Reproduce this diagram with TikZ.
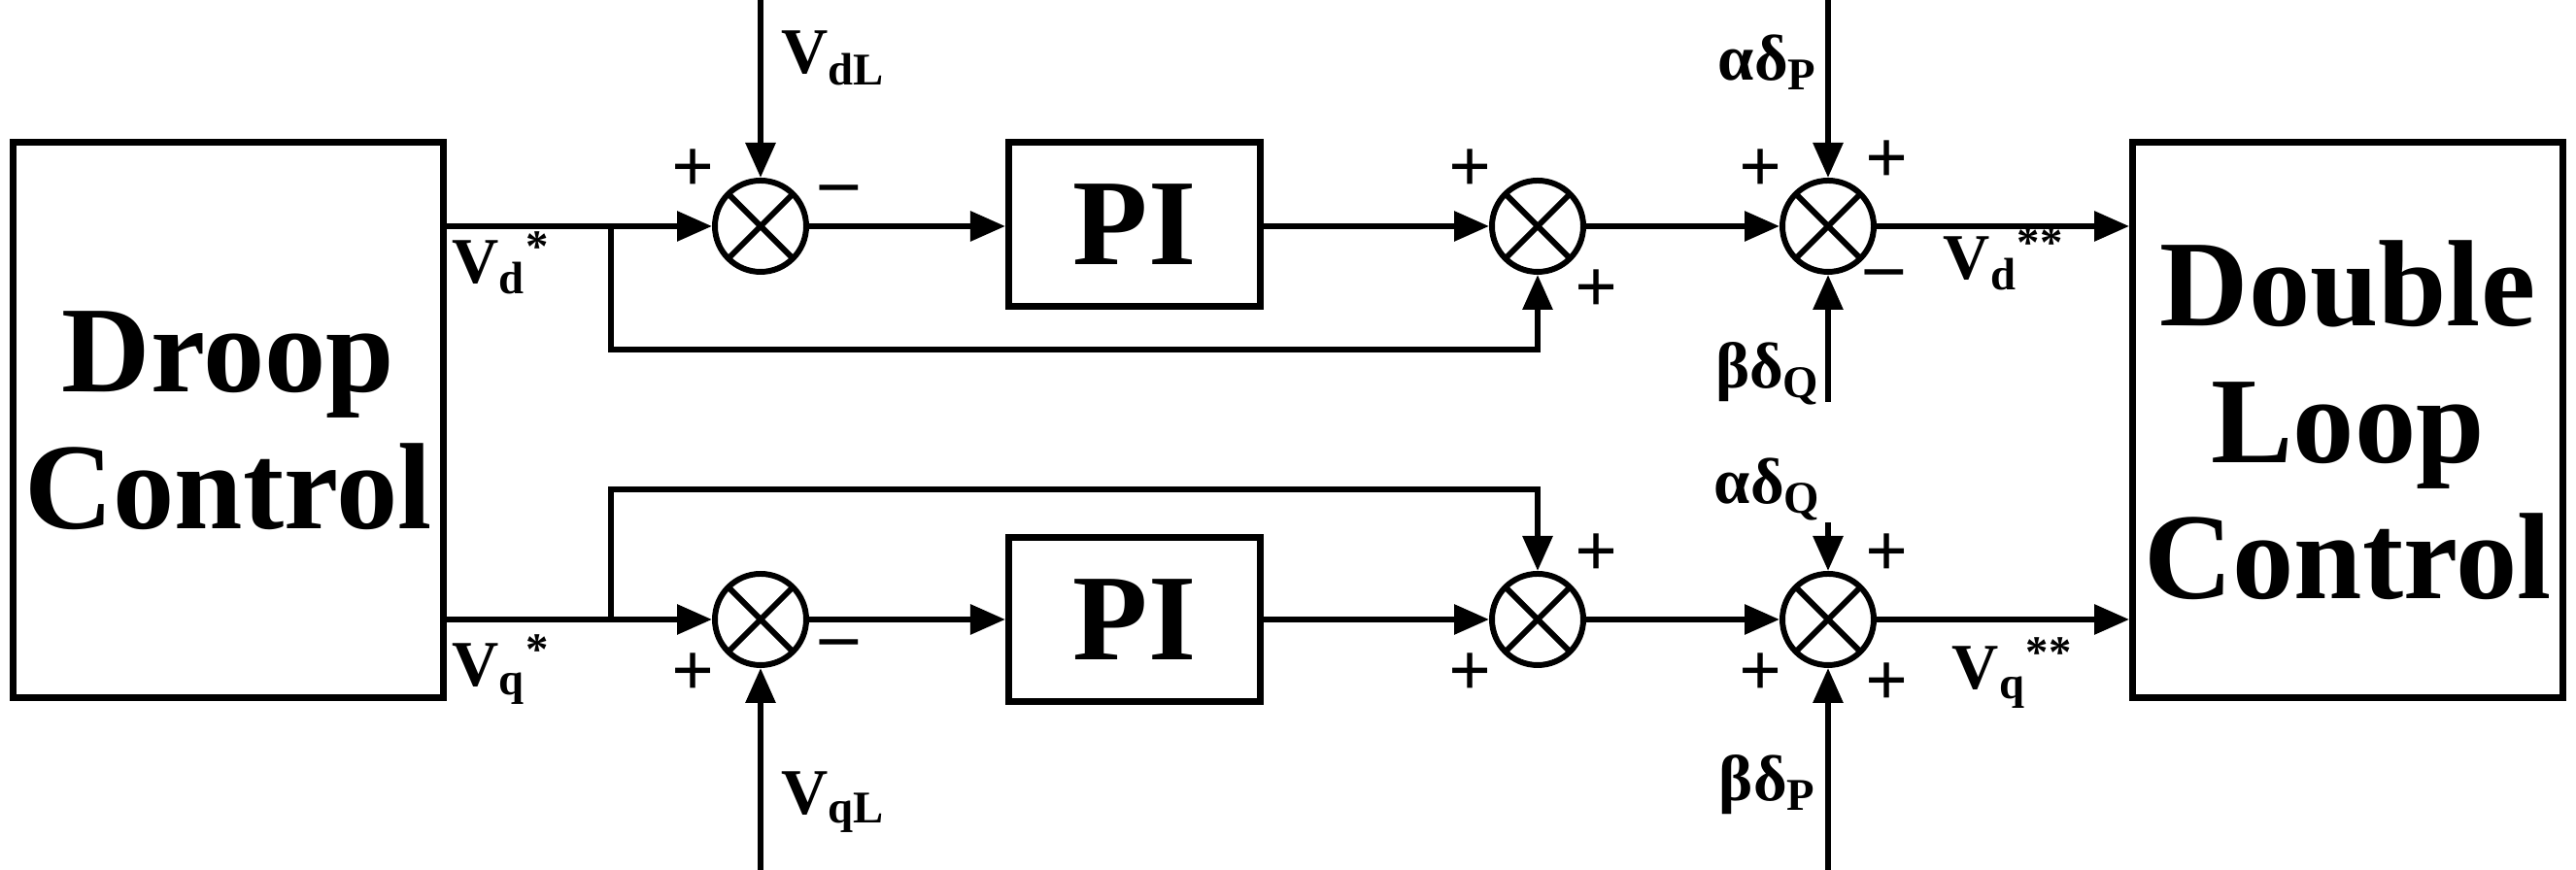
\documentclass[tikz,border=0pt]{standalone}
\usepackage{fontspec}
\setmainfont{Liberation Serif}
\usetikzlibrary{arrows.meta, positioning, calc}

\begin{document}
\begin{tikzpicture}[
    line width=1.7pt,
    block/.style={rectangle, draw, line width=2pt, align=center, font=\fontsize{36}{40}\selectfont\bfseries},
    sum/.style={circle, draw, minimum size=0.94cm, inner sep=0pt,
        path picture={\draw (path picture bounding box.north west) -- (path picture bounding box.south east)
            (path picture bounding box.north east) -- (path picture bounding box.south west);}},
    arrow/.style={-{Triangle[length=0.36cm, width=0.3cm]}},
    sig/.style={font=\fontsize{19}{21}\selectfont\bfseries},
    sgn/.style={font=\fontsize{22}{24}\selectfont\bfseries, inner sep=1pt}
]
    \useasboundingbox (0,0) rectangle (26.52,8.96);

    % Blocks
    \node[block, minimum width=4.36cm, minimum height=5.72cm] (droop) at (2.35,4.63) {Droop\\Control};
    \node[block, minimum width=4.37cm, minimum height=5.72cm] (dlc) at (24.17,4.63) {Double\\Loop\\Control};
    \node[block, minimum width=2.59cm, minimum height=1.69cm] (pid) at (11.68,6.65) {PI};
    \node[block, minimum width=2.59cm, minimum height=1.69cm] (piq) at (11.68,2.58) {PI};

    % d-axis
    \node[sum, label={[sgn]145:+}, label={[sgn, label distance=2pt]15:--}] (s1) at (7.83,6.63) {};
    \node[sum, label={[sgn]145:+}, label={[sgn]-50:+}] (s2) at (15.83,6.63) {};
    \node[sum, label={[sgn]145:+}, label={[sgn]50:+}, label={[sgn]-50:--}] (s3) at (18.82,6.63) {};
    \coordinate (jd) at (6.29,6.63);
    \coordinate (vdl) at (7.83,8.96);
    \coordinate (adp) at (18.82,8.96);
    \coordinate (bdq) at (18.82,4.82);

    \draw (droop.east |- jd) -- (jd);
    \draw[arrow] (jd) -- (s1.west);
    \draw[arrow] (vdl) -- (s1.north);
    \draw[arrow] (s1.east) -- (pid.west |- s1);
    \draw[arrow] (pid.east |- s2) -- (s2.west);
    \draw[arrow] (jd) |- (15.83,5.36) -- (s2.south);
    \draw[arrow] (s2.east) -- (s3.west);
    \draw[arrow] (adp) -- (s3.north);
    \draw[arrow] (bdq) -- (s3.south);
    \draw[arrow] (s3.east) -- (dlc.west |- s3);

    % q-axis
    \node[sum, label={[sgn]-145:+}, label={[sgn, label distance=2pt]-15:--}] (s4) at (7.83,2.58) {};
    \node[sum, label={[sgn]-145:+}, label={[sgn]50:+}] (s5) at (15.83,2.58) {};
    \node[sum, label={[sgn]-145:+}, label={[sgn]50:+}, label={[sgn]-50:+}] (s6) at (18.82,2.58) {};
    \coordinate (jq) at (6.29,2.58);
    \coordinate (vql) at (7.83,0);
    \coordinate (adq) at (18.82,3.58);
    \coordinate (bdp) at (18.82,0);

    \draw (droop.east |- jq) -- (jq);
    \draw[arrow] (jq) -- (s4.west);
    \draw[arrow] (vql) -- (s4.south);
    \draw[arrow] (s4.east) -- (piq.west |- s4);
    \draw[arrow] (piq.east |- s5) -- (s5.west);
    \draw[arrow] (jq) |- (15.83,3.92) -- (s5.north);
    \draw[arrow] (s5.east) -- (s6.west);
    \draw[arrow] (adq) -- (s6.north);
    \draw[arrow] (bdp) -- (s6.south);
    \draw[arrow] (s6.east) -- (dlc.west |- s6);

    % Signal labels
    \node[sig] (lvd) at (5.16,6.25) {V\textsubscript{d}\textsuperscript{*}};
    \node[sig] (lvq) at (5.16,2.06) {V\textsubscript{q}\textsuperscript{*}};
    \node[sig] (lvdd) at (20.63,6.29) {V\textsubscript{d}\textsuperscript{**}};
    \node[sig] (lvqq) at (20.72,2.03) {V\textsubscript{q}\textsuperscript{**}};
    \node[sig, right=2pt of vdl, yshift=-0.6cm] (lvdl) {V\textsubscript{dL}};
    \node[sig, right=2pt of vql, yshift=0.7cm] (lvql) {V\textsubscript{qL}};
    \node[sig] (ladp) at (18.2,8.32) {αδ\textsubscript{P}};
    \node[sig] (lbdq) at (18.2,5.11) {βδ\textsubscript{Q}};
    \node[sig] (ladq) at (18.2,3.92) {αδ\textsubscript{Q}};
    \node[sig] (lbdp) at (18.2,0.88) {βδ\textsubscript{P}};
\end{tikzpicture}
\end{document}
